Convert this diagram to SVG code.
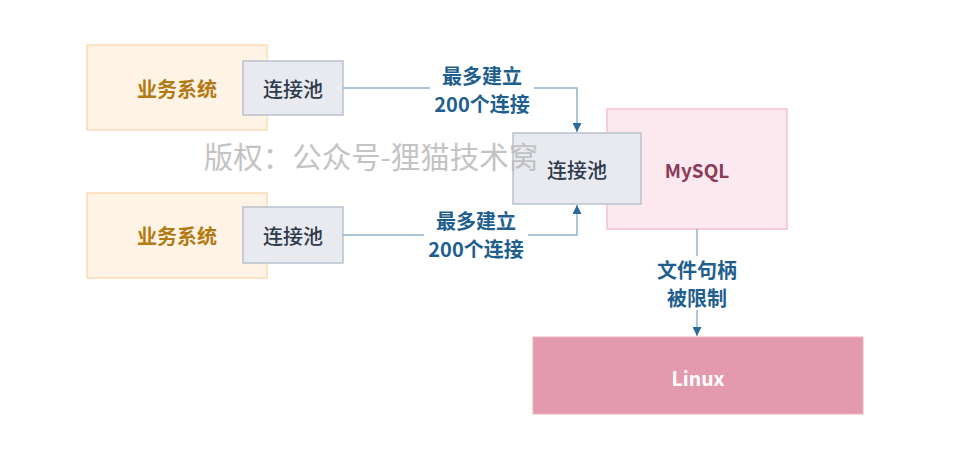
<svg xmlns="http://www.w3.org/2000/svg" width="964" height="470" viewBox="0 0 964 470">
<defs>
<style>
text{font-family:"Noto Sans CJK SC","Noto Sans",sans-serif;text-anchor:middle;dominant-baseline:central}
.biz{fill:#fff3e6;stroke:#fddcb6;stroke-width:1.5}
.biz-t{fill:#b27a12;font-size:20px;font-weight:bold}
.pool{fill:#e8eaef;stroke:#b8c2d0;stroke-width:1.5}
.pool-t{fill:#2f3b4c;font-size:20px;font-weight:500}
.lbl{fill:#1f5f8f;font-size:20px;font-weight:bold}
.edge{fill:none;stroke:#8db4d2;stroke-width:1.5}
</style>
<marker id="arr" viewBox="0 0 10 10" refX="10" refY="5" markerWidth="9" markerHeight="9" markerUnits="userSpaceOnUse" orient="auto">
<path d="M0,0 L10,5 L0,10 z" fill="#2a6b9c"/>
</marker>
</defs>
<rect width="964" height="470" fill="#ffffff"/>
<g id="biz1"><rect class="biz" x="87" y="45" width="180" height="85"/><text class="biz-t" x="177" y="88">业务系统</text></g>
<g id="biz2"><rect class="biz" x="87" y="193" width="180" height="85"/><text class="biz-t" x="177" y="235">业务系统</text></g>
<g id="pool1"><rect class="pool" x="243" y="61" width="100" height="54"/><text class="pool-t" x="293" y="88">连接池</text></g>
<g id="pool2"><rect class="pool" x="243" y="207" width="100" height="56"/><text class="pool-t" x="293" y="235">连接池</text></g>
<g id="mysql"><rect x="607" y="109" width="180" height="120" fill="#fbe9ef" stroke="#f2c2d1" stroke-width="1.5"/><text x="697" y="169" fill="#8c3a57" font-size="19" font-weight="bold">MySQL</text></g>
<g id="pool3"><rect class="pool" x="513" y="133" width="128" height="71"/><text class="pool-t" x="577" y="169">连接池</text></g>
<g id="linux"><rect x="533" y="337" width="330" height="77" fill="#e49aae" stroke="#eab0bf" stroke-width="1"/><text x="698" y="377" fill="#ffffff" font-size="19.5" font-weight="bold">Linux</text></g>
<g id="connectors">
<path class="edge" d="M343,88 H577 V132" marker-end="url(#arr)"/>
<path class="edge" d="M343,235 H577 V205" marker-end="url(#arr)"/>
<path class="edge" d="M697,229 V336" marker-end="url(#arr)"/>
<rect x="430" y="62" width="104" height="54" fill="#ffffff"/>
<text class="lbl" x="482" y="75">最多建立</text>
<text class="lbl" x="482" y="103">200个连接</text>
<rect x="424" y="208" width="104" height="54" fill="#ffffff"/>
<text class="lbl" x="476" y="220">最多建立</text>
<text class="lbl" x="476" y="248">200个连接</text>
<rect x="653" y="256" width="88" height="54" fill="#ffffff"/>
<text class="lbl" x="697" y="269">文件句柄</text>
<text class="lbl" x="697" y="297">被限制</text>
</g>
<text x="371" y="155" fill="#bdbdbd" font-size="29.5" opacity="0.9">版权：公众号-狸猫技术窝</text>
</svg>
